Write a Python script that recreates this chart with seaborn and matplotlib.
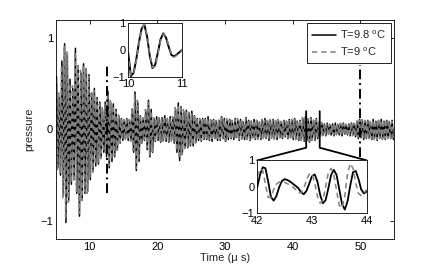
import numpy as np
import matplotlib
matplotlib.use("Agg")
import matplotlib.pyplot as plt
import seaborn as sns
from matplotlib.lines import Line2D

# ---------------- data ----------------
# main trace: one maximum and one minimum per 0.4 us oscillation cycle, starting at 5 us
T_START = 5.0
CYCLE = 0.4
black_max = [0.58, 0.35, 0.75, 0.94, 0.82, 0.55, 0.45, 0.89, 0.70, 0.62,
             0.72, 0.66, 0.60, 0.40, 0.45, 0.35, 0.30, 0.22, 0.30, 0.42,
             0.30, 0.28, 0.22, 0.15, 0.12, 0.10, 0.12, 0.10, 0.22, 0.41,
             0.30, 0.15, 0.12, 0.20, 0.32, 0.22, 0.12, 0.14, 0.12, 0.13,
             0.15, 0.12, 0.14, 0.13, 0.22, 0.29, 0.25, 0.20, 0.21, 0.18,
             0.20, 0.15, 0.12, 0.11, 0.12, 0.12, 0.14, 0.10, 0.11, 0.09,
             0.10, 0.14, 0.12, 0.10, 0.11, 0.09, 0.12, 0.10, 0.11, 0.08,
             0.13, 0.10, 0.09, 0.11, 0.10, 0.08, 0.10, 0.12, 0.09, 0.10,
             0.11, 0.09, 0.10, 0.08, 0.10, 0.09, 0.11, 0.10, 0.12, 0.09,
             0.10, 0.12, 0.14, 0.11, 0.13, 0.10, 0.12, 0.08, 0.07, 0.06,
             0.07, 0.05, 0.06, 0.07, 0.05, 0.06, 0.07, 0.05, 0.06, 0.07,
             0.06, 0.09, 0.11, 0.10, 0.09, 0.10, 0.08, 0.11, 0.09, 0.10,
             0.11, 0.09, 0.10, 0.08, 0.10]
black_min = [-0.42, -0.50, -0.72, -1.02, -0.78, -0.60, -0.55, -0.70, -0.95, -0.75,
             -0.70, -0.68, -0.55, -0.45, -0.40, -0.38, -0.30, -0.25, -0.30, -0.42,
             -0.35, -0.30, -0.22, -0.15, -0.12, -0.10, -0.12, -0.12, -0.25, -0.45,
             -0.35, -0.15, -0.12, -0.22, -0.30, -0.25, -0.13, -0.12, -0.14, -0.12,
             -0.13, -0.14, -0.12, -0.15, -0.25, -0.34, -0.26, -0.20, -0.20, -0.18,
             -0.18, -0.14, -0.12, -0.13, -0.11, -0.11, -0.12, -0.13, -0.10, -0.12,
             -0.12, -0.10, -0.13, -0.11, -0.10, -0.11, -0.09, -0.12, -0.10, -0.11,
             -0.10, -0.12, -0.09, -0.11, -0.10, -0.11, -0.09, -0.10, -0.12, -0.09,
             -0.10, -0.11, -0.09, -0.10, -0.08, -0.10, -0.09, -0.11, -0.10, -0.12,
             -0.11, -0.13, -0.12, -0.14, -0.11, -0.12, -0.10, -0.07, -0.06, -0.07,
             -0.05, -0.06, -0.07, -0.05, -0.06, -0.07, -0.05, -0.06, -0.07, -0.06,
             -0.08, -0.10, -0.09, -0.11, -0.10, -0.09, -0.11, -0.10, -0.12, -0.09,
             -0.10, -0.11, -0.09, -0.10, -0.11]
gray_max = [0.55, 0.40, 0.70, 0.92, 0.85, 0.50, 0.48, 0.85, 0.72, 0.65,
            0.70, 0.68, 0.58, 0.42, 0.43, 0.33, 0.28, 0.24, 0.28, 0.40,
            0.32, 0.26, 0.20, 0.16, 0.11, 0.11, 0.13, 0.11, 0.24, 0.38,
            0.32, 0.16, 0.13, 0.22, 0.30, 0.20, 0.13, 0.12, 0.13, 0.12,
            0.14, 0.13, 0.12, 0.14, 0.24, 0.27, 0.26, 0.22, 0.19, 0.19,
            0.18, 0.16, 0.13, 0.12, 0.11, 0.13, 0.12, 0.11, 0.10, 0.10,
            0.11, 0.13, 0.11, 0.12, 0.10, 0.10, 0.11, 0.12, 0.10, 0.09,
            0.12, 0.11, 0.10, 0.10, 0.11, 0.09, 0.11, 0.10, 0.10, 0.11,
            0.10, 0.10, 0.11, 0.09, 0.09, 0.10, 0.10, 0.11, 0.11, 0.10,
            0.11, 0.13, 0.12, 0.12, 0.12, 0.11, 0.11, 0.07, 0.08, 0.06,
            0.06, 0.06, 0.05, 0.06, 0.06, 0.07, 0.06, 0.06, 0.05, 0.06,
            0.07, 0.10, 0.10, 0.11, 0.10, 0.09, 0.10, 0.10, 0.10, 0.11,
            0.10, 0.10, 0.11, 0.09, 0.09]
gray_min = [-0.45, -0.48, -0.75, -0.98, -0.80, -0.58, -0.57, -0.68, -0.92, -0.78,
            -0.68, -0.70, -0.52, -0.47, -0.38, -0.36, -0.32, -0.24, -0.28, -0.40,
            -0.33, -0.29, -0.23, -0.16, -0.11, -0.11, -0.11, -0.13, -0.23, -0.43,
            -0.33, -0.17, -0.11, -0.20, -0.28, -0.24, -0.14, -0.11, -0.13, -0.13,
            -0.12, -0.13, -0.13, -0.14, -0.23, -0.32, -0.28, -0.21, -0.19, -0.17,
            -0.17, -0.15, -0.11, -0.12, -0.12, -0.12, -0.11, -0.12, -0.11, -0.11,
            -0.11, -0.11, -0.12, -0.10, -0.11, -0.10, -0.10, -0.11, -0.11, -0.10,
            -0.11, -0.11, -0.10, -0.10, -0.11, -0.10, -0.10, -0.11, -0.11, -0.10,
            -0.11, -0.10, -0.10, -0.09, -0.09, -0.09, -0.10, -0.10, -0.11, -0.11,
            -0.12, -0.12, -0.13, -0.13, -0.12, -0.11, -0.09, -0.08, -0.07, -0.06,
            -0.06, -0.05, -0.06, -0.06, -0.05, -0.06, -0.06, -0.07, -0.06, -0.07,
            -0.07, -0.09, -0.10, -0.10, -0.11, -0.10, -0.10, -0.11, -0.11, -0.10,
            -0.11, -0.10, -0.10, -0.11, -0.10]

# inset 1: 10 - 11 us
inset1_t = [10.00, 10.05, 10.10, 10.15, 10.20, 10.25, 10.30, 10.35, 10.40, 10.45, 10.50,
            10.55, 10.60, 10.65, 10.70, 10.75, 10.80, 10.85, 10.90, 10.95, 11.00]
inset1_black = [-0.10, -0.98, -0.86, -0.35, 0.30, 0.81, 0.94, 0.50, -0.23, -0.68, -0.55,
                -0.09, 0.41, 0.62, 0.46, 0.11, -0.19, -0.24, -0.17, -0.08, 0.00]
inset1_gray = [-0.08, -0.95, -0.90, -0.40, 0.25, 0.78, 0.95, 0.55, -0.18, -0.66, -0.62,
               -0.15, 0.36, 0.60, 0.50, 0.16, -0.17, -0.27, -0.20, -0.10, -0.02]

# inset 2: 42 - 44 us
inset2_t = [42.00, 42.05, 42.10, 42.15, 42.20, 42.25, 42.30, 42.35, 42.40, 42.45, 42.50,
            42.55, 42.60, 42.65, 42.70, 42.75, 42.80, 42.85, 42.90, 42.95, 43.00,
            43.05, 43.10, 43.15, 43.20, 43.25, 43.30, 43.35, 43.40, 43.45, 43.50,
            43.55, 43.60, 43.65, 43.70, 43.75, 43.80, 43.85, 43.90, 43.95, 44.00]
inset2_black = [-0.02, 0.45, 0.74, 0.70, 0.20, -0.38, -0.52, -0.35, -0.02, 0.22, 0.29,
                0.26, 0.20, 0.12, 0.04, -0.05, -0.20, -0.28, -0.15, 0.12, 0.40,
                0.47, 0.20, -0.30, -0.62, -0.50, -0.05, 0.45, 0.64, 0.45, -0.10,
                -0.65, -0.86, -0.55, 0.05, 0.55, 0.60, 0.30, -0.10, -0.25, -0.18]
inset2_gray = [0.40, 0.68, 0.62, 0.10, -0.40, -0.40, -0.10, 0.10, 0.18, 0.20, 0.17,
               0.12, 0.06, 0.00, -0.10, -0.22, -0.23, -0.05, 0.25, 0.48, 0.50,
               0.15, -0.35, -0.62, -0.50, 0.00, 0.55, 0.70, 0.45, -0.15, -0.70,
               -0.80, -0.35, 0.50, 0.88, 0.70, 0.15, -0.25, -0.33, -0.25, -0.10]

labels = ["T=9.8 $^\\mathregular{o}$C", "T=9 $^\\mathregular{o}$C"]

# dash-dot reference marks
mark_t = [12.5, 50.0]
mark_top = [0.71, 0.71]
mark_bottom = [-0.70, -0.30]

# ---------------- style ----------------
sns.set_style("white")
plt.rcParams['font.family'] = ['Liberation Sans', 'DejaVu Sans']
plt.rcParams['mathtext.fontset'] = 'custom'
plt.rcParams['mathtext.rm'] = 'Liberation Sans'
plt.rcParams['font.size'] = 8

BLACK = 'k'
GRAY = (0.5, 0.5, 0.5)
DASH = (3.5, 2.5)

fig = plt.figure(figsize=(4.36, 2.70), dpi=100)
ax = fig.add_axes([0.128, 0.115, 0.776, 0.811])

n = len(black_max)
t0 = T_START + CYCLE * np.arange(n)
black_t = np.column_stack([t0 + 0.1, t0 + 0.3]).ravel()
black_y = np.column_stack([black_max, black_min]).ravel()
gray_t = np.column_stack([t0 + 0.05, t0 + 0.25]).ravel()
gray_y = np.column_stack([gray_max, gray_min]).ravel()

sns.lineplot(x=black_t, y=black_y, ax=ax, color=BLACK, linewidth=1.1,
             estimator=None, sort=False, legend=False)
sns.lineplot(x=gray_t, y=gray_y, ax=ax, color=GRAY, linewidth=1.1,
             estimator=None, sort=False, legend=False)
ax.lines[-1].set_dashes((3.0, 2.0))

for t, b, tp in zip(mark_t, mark_bottom, mark_top):
    ax.plot([t, t], [b, tp], color=BLACK, lw=1.4, linestyle=(0, (5, 2, 1, 2)))

ax.set_xlim(5, 55)
ax.set_ylim(-1.2, 1.2)
ax.set_xticks([10, 20, 30, 40, 50])
ax.set_yticks([-1, 0, 1])
ax.set_xlabel("Time (μ s)", fontsize=8, labelpad=1)
ax.set_ylabel("pressure", fontsize=8, labelpad=4)


def style_axes(a):
    a.tick_params(direction='in', top=True, right=True, length=3, width=0.6,
                  labelsize=8, pad=2, colors='k')
    for s in a.spines.values():
        s.set_color('k')
        s.set_linewidth(0.6)


style_axes(ax)

handles = [Line2D([], [], color=BLACK, lw=1.1),
           Line2D([], [], color=GRAY, lw=1.1, dashes=DASH)]
leg = ax.legend(handles, labels, loc='upper right', fontsize=8, frameon=True,
                fancybox=False, edgecolor='k', framealpha=1, borderaxespad=0.3,
                handlelength=2.2, handletextpad=0.3, labelspacing=0.45, borderpad=0.45)
leg.get_frame().set_linewidth(0.6)

# inset 1
ax1 = fig.add_axes([0.294, 0.716, 0.124, 0.198])
sns.lineplot(x=inset1_t, y=inset1_black, ax=ax1, color=BLACK, linewidth=1.4,
             estimator=None, sort=False, legend=False)
sns.lineplot(x=inset1_t, y=inset1_gray, ax=ax1, color=GRAY, linewidth=1.1,
             estimator=None, sort=False, legend=False)
ax1.lines[-1].set_dashes(DASH)
ax1.set_xlim(10, 11)
ax1.set_ylim(-1, 1)
ax1.set_xticks([10, 11])
ax1.set_yticks([-1, 0, 1])
ax1.set_xlabel("")
ax1.set_ylabel("")
style_axes(ax1)
ax1.tick_params(top=False, right=False)

# inset 2
ax2 = fig.add_axes([0.590, 0.210, 0.251, 0.196])
sns.lineplot(x=inset2_t, y=inset2_black, ax=ax2, color=BLACK, linewidth=1.3,
             estimator=None, sort=False, legend=False)
sns.lineplot(x=inset2_t, y=inset2_gray, ax=ax2, color=GRAY, linewidth=1.1,
             estimator=None, sort=False, legend=False)
ax2.lines[-1].set_dashes(DASH)
ax2.set_xlim(42, 44)
ax2.set_ylim(-1, 1)
ax2.set_xticks([42, 43, 44])
ax2.set_yticks([-1, 0, 1])
ax2.set_xlabel("")
ax2.set_ylabel("")
style_axes(ax2)
ax2.tick_params(top=False, right=False)

# zoom bracket linking the 42-44 us window to inset 2
BRACKET = 0.2
inv = ax.transData.inverted()
bb = ax2.get_position()
left_corner = inv.transform(fig.transFigure.transform((bb.x0, bb.y1)))
right_corner = inv.transform(fig.transFigure.transform((bb.x1, bb.y1)))
w0, w1 = ax2.get_xlim()
ax.plot([w0, w0, left_corner[0]], [BRACKET, -BRACKET, left_corner[1]],
        color=BLACK, lw=1.3, clip_on=False)
ax.plot([w1, w1, right_corner[0]], [BRACKET, -BRACKET, right_corner[1]],
        color=BLACK, lw=1.3, clip_on=False)

fig.savefig("out.png", dpi=100)
